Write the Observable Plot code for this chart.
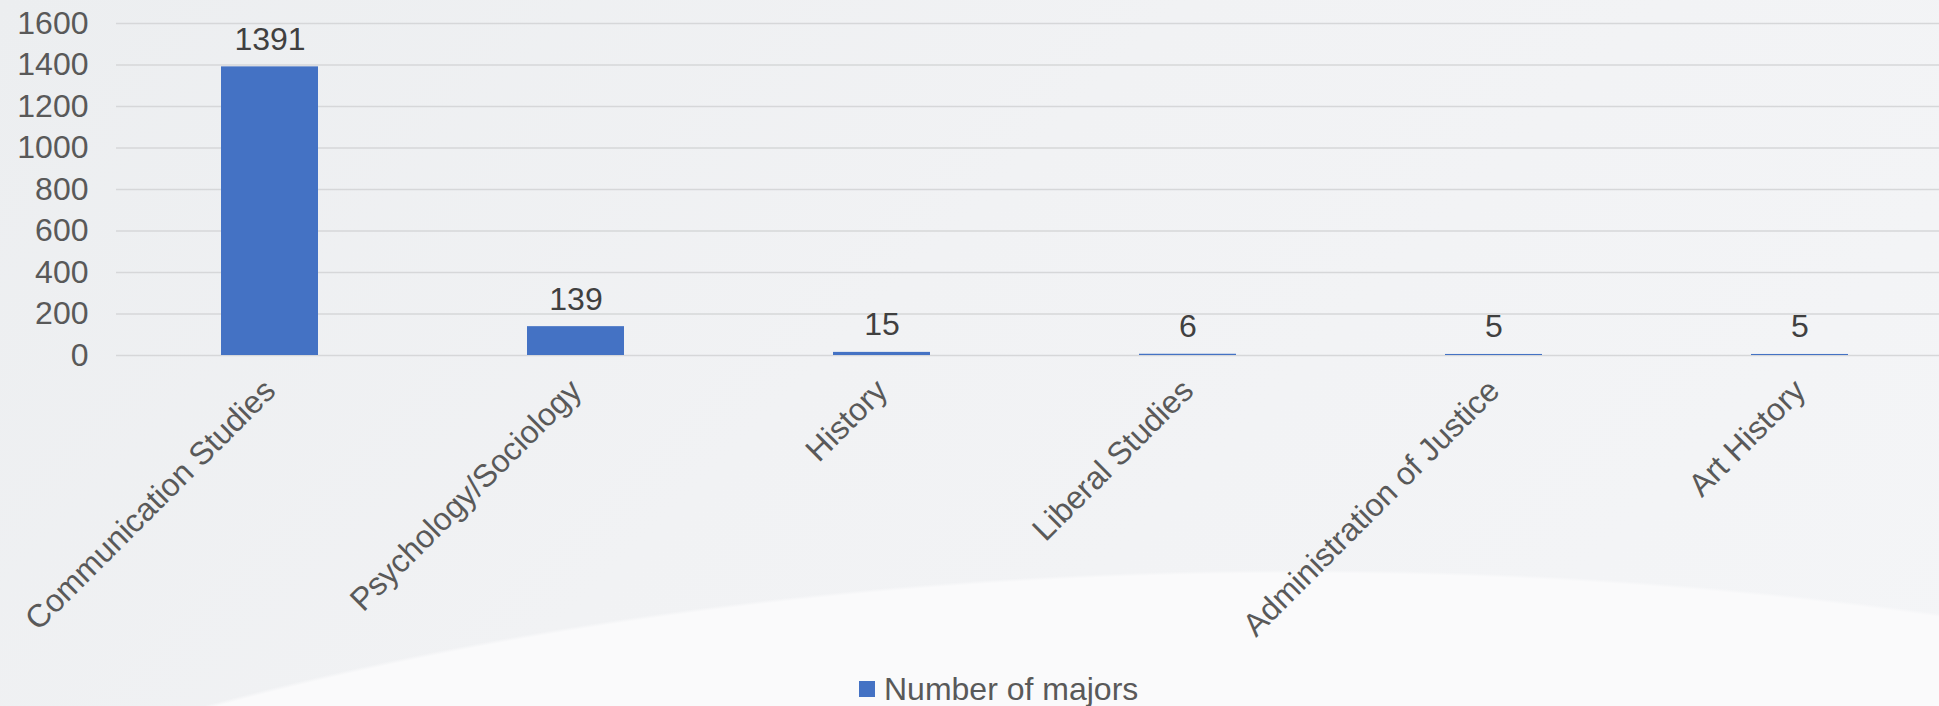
<!DOCTYPE html>
<html>
<head>
<meta charset="utf-8">
<script src="https://cdn.jsdelivr.net/npm/d3@7"></script>
<script src="https://cdn.jsdelivr.net/npm/@observablehq/plot@0.6"></script>
<style>
  html, body { margin: 0; padding: 0; overflow: hidden; width: 1939px; height: 706px; }
  body {
    position: relative;
    font-family: "Liberation Sans", Arial, sans-serif;
    background:
      radial-gradient(ellipse 2000px 830px at 1300px 1400px, #fafafb 99.6%, rgba(250,250,251,0) 100%),
      linear-gradient(135deg, #eceef0 0%, #f1f2f4 45%, #f4f5f7 100%);
  }
  #chart { position: absolute; left: 0; top: 0; }
  #legend {
    position: absolute; left: 859px; top: 673px;
    font-size: 32px; color: #595959; line-height: 32px;
    display: flex; align-items: center; white-space: nowrap;
  }
  #legend .sw { width: 16px; height: 16px; background: #4472C4; margin-right: 9px; }
</style>
</head>
<body>
<div id="chart"></div>
<div id="legend"><span class="sw"></span><span id="legend-label"></span></div>
<script>
const categories = ["Communication Studies", "Psychology/Sociology", "History", "Liberal Studies", "Administration of Justice", "Art History"];
const values = [1391, 139, 15, 6, 5, 5];
const yTicks = [0, 200, 400, 600, 800, 1000, 1200, 1400, 1600];
const seriesName = "Number of majors";

const data = categories.map((c, i) => ({category: c, value: values[i]}));

const chart = Plot.plot({
  width: 1939,
  height: 706,
  marginLeft: 116,
  marginRight: -13,
  marginTop: 23,
  marginBottom: 351,
  style: {background: "transparent", fontFamily: "'Liberation Sans', Arial, sans-serif", fontSize: "32px", color: "#595959", overflow: "hidden"},
  x: {domain: categories, paddingInner: 0.684, paddingOuter: 0.342, label: null},
  y: {domain: [0, 1600], ticks: yTicks, label: null},
  marks: [
    Plot.gridY(yTicks, {stroke: "#d6d7d9", strokeOpacity: 1, strokeWidth: 1.4}),
    Plot.barY(data, {x: "category", y: "value", fill: "#4472C4"}),
    Plot.text(data, {x: "category", y: "value", text: d => String(d.value), dy: -17, lineAnchor: "bottom", fill: "#404040", fontSize: 32}),
    Plot.axisY(yTicks, {tickSize: 0, tickPadding: 28, label: null, fontSize: 32, tickFormat: d => String(d)}),
    Plot.axisX({tickSize: 0, tickRotate: -45, tickPadding: 30, label: null, fontSize: 32, textAnchor: "end"})
  ]
});
document.getElementById("chart").appendChild(chart);
document.getElementById("legend-label").textContent = seriesName;
</script>
</body>
</html>
